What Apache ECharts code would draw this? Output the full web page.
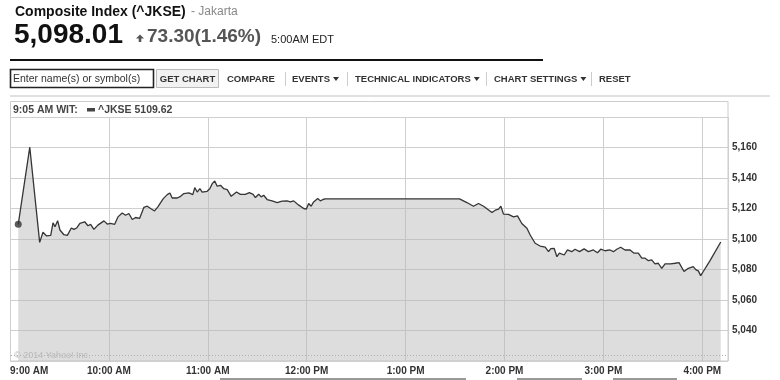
<!DOCTYPE html>
<html>
<head>
<meta charset="utf-8">
<script src="https://cdn.jsdelivr.net/npm/echarts@6/dist/echarts.min.js"></script>
<style>
html,body{margin:0;padding:0;background:#fff;}
#c{width:780px;height:380px;}
</style>
</head>
<body>
<div id="c"></div>
<script>
// Minutes after 9:00 AM (Jakarta time)
const minutes = [5,12,18,20,22.2,24.7,26.1,27.3,28.9,30.3,32.7,34.8,37.2,38.8,40.4,42.4,45.3,47.3,48.9,50.9,53.3,57,59,61,63.5,65.5,68.1,70.1,72.1,74.2,76.2,78.6,81.2,83.3,85.3,87.7,89.7,93,95.4,97,98.4,101.5,103.5,105.5,108.5,110.9,112.1,113.6,115.2,116.6,119.6,121.2,122.7,124.2,125.7,127.7,129.7,131.8,134.2,137.4,139.8,142.8,145.2,147.5,148.9,150.9,152.4,153.9,156,159,162.1,165.1,168.1,170.1,172.1,175.2,178.2,179.8,181.2,182.7,184.2,186.7,188.3,189.9,191.3,272.7,277.2,281.2,284.2,287.3,292.4,294.4,296.4,297.8,299.4,302.4,305.5,307.9,310.5,313.6,315.6,318.6,321.6,324.7,326.7,328.1,330.1,331.8,333.3,336.2,338.2,340.8,342.8,345.5,348.3,350.9,353.9,356.4,358.4,361,364,366.1,368.1,370.5,373.1,376.2,378.6,381.2,383.3,385.3,387.3,389.3,391.3,393.3,395.4,397.4,400.8,403.5,405.9,408.9,411.5,414.5,416.2,417.6,419,420.6,424.7,431.2];
// ^JKSE index values
const jkse = [5109.62,5160.2,5097.8,5104.4,5102,5102.4,5110.6,5108,5112,5105.9,5102.8,5102.4,5107.2,5106.3,5107.2,5110.2,5111.3,5108.7,5109.6,5106.3,5109.1,5111.9,5109.8,5110.2,5109.6,5114.5,5117.1,5115.6,5116.7,5112.8,5114.1,5113.5,5120.7,5121.5,5120,5118.4,5121.1,5126.5,5129.1,5130.2,5126.9,5126.9,5128,5129.8,5130.2,5129.1,5133.7,5130.8,5133,5130.8,5131.3,5133,5136.3,5138,5134.6,5135.2,5133,5132.4,5128,5130.8,5129.3,5129.3,5130.4,5129.3,5127.2,5129.3,5127.6,5128.7,5125.9,5125,5123.9,5124.8,5125,5124.3,5125,5122.2,5120,5119.6,5123.3,5121.5,5124.3,5126.5,5125,5125.9,5126.3,5126.3,5123.9,5121.5,5123.3,5121.5,5117.4,5118.9,5119.6,5121.5,5116.3,5116.1,5114.5,5115.2,5110.2,5107,5102.6,5097.2,5095.4,5094.6,5091.7,5093.7,5093.9,5088.4,5090.7,5089.5,5092.8,5091.7,5093.3,5091.7,5093.5,5091.7,5092.8,5091,5093.3,5092.3,5092.8,5091.7,5093.3,5094.6,5092.8,5092.8,5090.7,5090.7,5087.4,5087.4,5085.8,5086.3,5083.7,5084.1,5080.8,5083.7,5083.7,5084.1,5084.5,5078.7,5080.8,5081.9,5079.8,5079.1,5076,5078.7,5085.8,5098.01];
const xTickLabels = ['9:00 AM','10:00 AM','11:00 AM','12:00 PM','1:00 PM','2:00 PM','3:00 PM','4:00 PM'];
const yTickValues = [5040,5060,5080,5100,5120,5140,5160];
const yTickLabels = ['5,040','5,060','5,080','5,100','5,120','5,140','5,160'];

const chart = echarts.init(document.getElementById('c'), null, {renderer:'canvas'});
const F = 'Arial, "Liberation Sans", sans-serif';
const lineData = minutes.map((m,i)=>[m, jkse[i]]);
const mctx = document.createElement('canvas').getContext('2d');
function tw(s,font){mctx.font=font;return mctx.measureText(s).width;}

function txt(x,y,s,font,fill,align){
  return {type:'text', x:x, y:y, silent:true, style:{text:s, font:font, fill:fill, textAlign:align||'left', textVerticalAlign:'middle'}};
}
function tri(x,y){
  return {type:'polygon', silent:true, shape:{points:[[x,y],[x+6,y],[x+3,y+4]]}, style:{fill:'#333'}};
}
const menu = [
  ['COMPARE',227,false],['EVENTS',292,true],['TECHNICAL INDICATORS',355,true],['CHART SETTINGS',494,true],['RESET',599,false]
];
const seps = [285,347,486,591];
const MF = 'bold 9.5px '+F;
const graphics = [
  txt(15,12,'Composite Index (^JKSE)','bold 14px '+F,'#111'),
  txt(191,12,'- Jakarta','12px '+F,'#888'),
  txt(14,35,'5,098.01','bold 28px '+F,'#111'),
  {type:'polygon', silent:true, shape:{points:[[136,38.5],[140,34.5],[144,38.5],[141.3,38.5],[141.3,42],[138.7,42],[138.7,38.5]]}, style:{fill:'#555'}},
  txt(147,37,'73.30(1.46%)','bold 19px '+F,'#555'),
  txt(271,40,'5:00AM EDT','11px '+F,'#222'),
  {type:'rect', silent:true, shape:{x:10,y:59,width:533,height:2}, style:{fill:'#111'}},
  {type:'rect', silent:true, shape:{x:10.5,y:69.5,width:143,height:18}, style:{fill:'#fff',stroke:'#222',lineWidth:1.6}},
  txt(13,79,'Enter name(s) or symbol(s)','10.5px '+F,'#333'),
  {type:'rect', silent:true, shape:{x:156.5,y:69.5,width:62,height:18}, style:{fill:'#f2f2f2',stroke:'#bbb',lineWidth:1}},
  txt(187.5,79,'GET CHART','bold 9.5px '+F,'#333','center'),
  {type:'rect', silent:true, shape:{x:10,y:95,width:760,height:2}, style:{fill:'#e0e0e0'}},
  {type:'rect', silent:true, shape:{x:10.5,y:101.5,width:717.5,height:259.5}, style:{fill:'none',stroke:'#ccc',lineWidth:1}},
  txt(13,110,'9:05 AM WIT:','bold 10.5px '+F,'#444'),
  {type:'rect', silent:true, shape:{x:87,y:108,width:8,height:3.5}, style:{fill:'#444'}},
  txt(98,110,'^JKSE 5109.62','bold 10.5px '+F,'#444'),
  {type:'line', silent:true, shape:{x1:11,y1:355.5,x2:727,y2:355.5}, style:{stroke:'#aaa',lineWidth:1,lineDash:[1,2]}},
  txt(14,355.5,'\u00a9 2014 Yahoo! Inc.','9px '+F,'#bbb'),
  {type:'rect', silent:true, shape:{x:220,y:378,width:246,height:2}, style:{fill:'#999'}},
  {type:'rect', silent:true, shape:{x:517,y:378,width:65,height:2}, style:{fill:'#999'}},
  {type:'rect', silent:true, shape:{x:613,y:378,width:64,height:2}, style:{fill:'#999'}}
];
menu.forEach(m=>{
  graphics.push(txt(m[1],79,m[0],MF,'#333'));
  if(m[2]){ graphics.push(tri(m[1]+tw(m[0],MF)+3,77)); }
});
seps.forEach(x=>{
  graphics.push({type:'line', silent:true, shape:{x1:x+0.5,y1:72,x2:x+0.5,y2:86}, style:{stroke:'#ccc',lineWidth:1}});
});

chart.setOption({
  animation:false,
  backgroundColor:'#fff',
  grid:{left:10,right:52,top:117,bottom:19,containLabel:false,outerBoundsMode:'none'},
  xAxis:{
    type:'value', min:0, max:435.6, interval:60,
    axisLine:{show:false}, axisTick:{show:false},
    splitLine:{show:true,lineStyle:{color:'#cfcfcf',width:1}},
    axisLabel:{
      margin:5, color:'#333', fontFamily:F, fontWeight:'bold', fontSize:10,
      showMaxLabel:false, alignMinLabel:'left',
      formatter:function(v){const i=Math.round(v/60);return (Math.abs(v-i*60)<0.01 && xTickLabels[i])?xTickLabels[i]:'';}
    }
  },
  yAxis:{
    type:'value', position:'right', min:5020, max:5180, interval:20,
    axisLine:{show:false}, axisTick:{show:false},
    splitLine:{show:true,lineStyle:{color:'#cfcfcf',width:1}},
    axisLabel:{
      margin:4, color:'#333', fontFamily:F, fontWeight:'bold', fontSize:10,
      showMinLabel:false, showMaxLabel:false,
      formatter:function(v){const i=yTickValues.indexOf(v);return i>=0?yTickLabels[i]:'';}
    }
  },
  series:[
    {
      type:'line', data:lineData, showSymbol:false, symbol:'none',
      lineStyle:{color:'#353535',width:1.3},
      areaStyle:{color:'rgb(183,183,183)',opacity:0.47,origin:'start'},
      silent:true, z:2
    },
    {
      type:'scatter', data:[[minutes[0], jkse[0]]], symbol:'circle', symbolSize:7,
      itemStyle:{color:'#333'}, silent:true, z:3
    }
  ],
  graphic:graphics
});
</script>
</body>
</html>
